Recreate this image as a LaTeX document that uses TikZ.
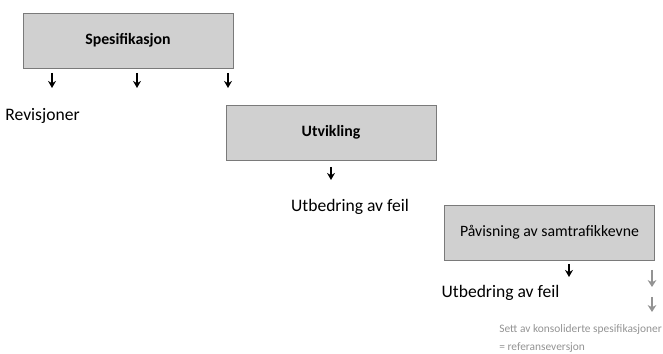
\documentclass[tikz,border=0pt]{standalone}
\usepackage{fontspec}
\setmainfont{Carlito}
\usetikzlibrary{arrows.meta, positioning, calc}

\definecolor{boxfill}{HTML}{D0D0D0}
\definecolor{boxline}{HTML}{7A7A7A}
\definecolor{lightgrey}{HTML}{939393}

\begin{document}
\begin{tikzpicture}[
    x=0.02cm, y=-0.02cm,
    >={Stealth[length=4pt, width=4.5pt]},
    phase/.style={draw=boxline, fill=boxfill, minimum width=4.2cm, minimum height=1.1cm, inner sep=0pt, font=\fontsize{9}{11}\selectfont},
    note/.style={inner sep=0pt, font=\fontsize{10}{12}\selectfont},
    greynote/.style={inner sep=0pt, anchor=west, text=lightgrey, font=\fontsize{6.5}{8.5}\selectfont},
    down/.style={->, line width=0.8pt},
    greydown/.style={-{Stealth[length=4pt, width=5pt]}, line width=1.3pt, draw=lightgrey}
]

% Frame of the picture
\useasboundingbox (0,0) rectangle (663,354);

% Phases
\node (Spes) [phase] at (128, 40.5) {\bfseries Spesifikasjon};
\node (Utv) [phase] at (331, 132.5) {\bfseries Utvikling};
\node (Pav) [phase] at (549.5, 232.5) {Påvisning av samtrafikkevne};

% Texts
\node (Rev) [note, anchor=west] at (5, 116) {Revisjoner};
\node (Utb1) [note] at (350, 207) {Utbedring av feil};
\node (Utb2) [note] at (500.5, 293) {Utbedring av feil};
\node (Sett) [greynote] at (499, 330) {Sett av konsoliderte spesifikasjoner};
\node (Ref) [greynote] at (499, 348) {= referanseversjon};

% Arrow ends
\coordinate (A1) at (52, 73);   \coordinate (A1e) at (52, 88);
\coordinate (A2) at (137, 73);  \coordinate (A2e) at (137, 88);
\coordinate (A3) at (228, 73);  \coordinate (A3e) at (228, 88);
\coordinate (B1) at (331, 167); \coordinate (B1e) at (331, 180);
\coordinate (C1) at (569, 264); \coordinate (C1e) at (569, 277);
\coordinate (G1) at (652, 270); \coordinate (G1e) at (652, 287);
\coordinate (G2) at (652, 297); \coordinate (G2e) at (652, 312);

\draw[down] (A1) -- (A1e);
\draw[down] (A2) -- (A2e);
\draw[down] (A3) -- (A3e);
\draw[down] (B1) -- (B1e);
\draw[down] (C1) -- (C1e);

% Grey arrows
\draw[greydown] (G1) -- (G1e);
\draw[greydown] (G2) -- (G2e);

\end{tikzpicture}
\end{document}
